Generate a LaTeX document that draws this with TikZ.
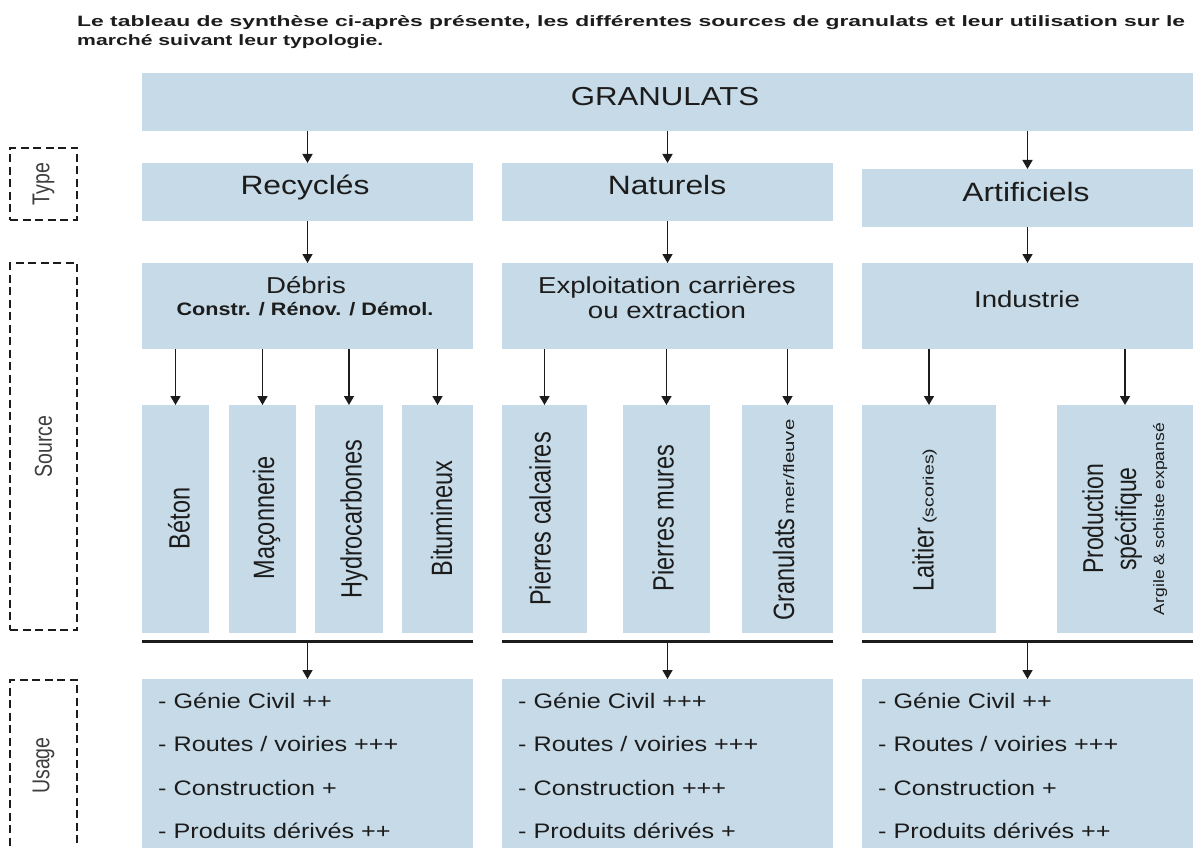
\documentclass[tikz,border=0pt]{standalone}
\usepackage{fontspec}
\usepackage{graphicx}
\setmainfont{Liberation Sans}
\newfontfamily\wide[FakeStretch=1.2]{Liberation Sans}
\usetikzlibrary{arrows.meta}

\definecolor{cellblue}{RGB}{198,218,231}
\definecolor{ink}{RGB}{28,28,28}

% filled cell from its corners (left, top, right, bottom), y measured downwards
\newcommand{\cellbox}[5]{%
  \node[cell, minimum width={(#4-#2)*1pt}, minimum height={(#5-#3)*1pt}]
    (#1) at ({(#2+#4)/2},{(#3+#5)/2}) {};}
% upright-reading vertical text, widened across the page
\newcommand{\vtext}[1]{\scalebox{1.25}[1]{\rotatebox{90}{#1}}}

\begin{document}
\begin{tikzpicture}[x=1pt,y=-1pt,
  cell/.style={fill=cellblue, draw=none, inner sep=0pt, outer sep=0pt},
  arr/.style={draw=ink, line width=1.6pt, -{Triangle[width=10pt,length=9pt]}},
  bar/.style={fill=ink, draw=none, inner sep=0pt, outer sep=0pt, minimum height=3pt},
  tag/.style={draw=ink, line width=2.5pt, dash pattern=on 8pt off 4.5pt,
              inner sep=0pt, text=ink!85},
  txt/.style={inner sep=0pt, text=ink, font=\wide},
  vtxt/.style={inner sep=0pt, text=ink, font=\rmfamily}]

\useasboundingbox (0,0) rectangle (1195,848);

% introduction
\node[anchor=base west, inner sep=0pt, text=ink] (intro1) at (77,27)
  {\resizebox{1108pt}{\height}{\bfseries\fontsize{15}{15}\selectfont Le tableau de synthèse ci-après présente, les différentes sources de granulats et leur utilisation sur le}};
\node[anchor=base west, inner sep=0pt, text=ink] (intro2) at (77,46)
  {\resizebox{306pt}{\height}{\bfseries\fontsize{15}{15}\selectfont marché suivant leur typologie.}};

% row labels
\node[tag, minimum width=67pt, minimum height=72pt] (tagtype) at (43.5,184)
  {\vtext{\fontsize{19.5}{19.5}\selectfont Type}};
\node[tag, minimum width=67pt, minimum height=367pt] (tagsource) at (43.5,446.5)
  {\vtext{\fontsize{19.5}{19.5}\selectfont Source}};
\node[tag, minimum width=67pt, minimum height=171pt] (tagusage) at (43.5,765.5)
  {\vtext{\fontsize{19.5}{19.5}\selectfont Usage}};

% top cell
\cellbox{gran}{142}{73}{1193}{131}
\node[txt, anchor=base] (granT) at (665,106) {\fontsize{26}{26}\selectfont GRANULATS};

% types
\cellbox{rec}{142}{163}{473}{221}
\cellbox{nat}{502}{163}{833}{221}
\cellbox{art}{862}{169}{1193}{227}
\node[txt, anchor=base] (recT) at (305,195) {\fontsize{26.5}{26.5}\selectfont Recyclés};
\node[txt, anchor=base] (natT) at (667,195) {\fontsize{26.5}{26.5}\selectfont Naturels};
\node[txt, anchor=base] (artT) at (1026,201) {\fontsize{26.5}{26.5}\selectfont Artificiels};

% sources
\cellbox{deb}{142}{263}{473}{349}
\cellbox{expl}{502}{263}{833}{349}
\cellbox{ind}{862}{263}{1193}{349}
\node[txt, anchor=base] (debT) at (306,293) {\fontsize{23}{23}\selectfont Débris};
\node[txt, anchor=base] (debS) at (305,315) {\bfseries\fontsize{18}{18}\selectfont Constr. / Rénov. / Démol.};
\node[txt, anchor=base] (explT) at (667,293)
  {\fontsize{23}{25}\selectfont\begin{tabular}[t]{@{}c@{}}Exploitation carrières\\ ou extraction\end{tabular}};
\node[txt, anchor=base] (indT) at (1027,307) {\fontsize{23}{23}\selectfont Industrie};

% materials
\cellbox{beton}{142}{405}{209}{633}
\cellbox{macon}{229}{405}{296}{633}
\cellbox{hydro}{315}{405}{383}{633}
\cellbox{bitu}{402}{405}{473}{633}
\cellbox{calc}{502}{405}{587}{633}
\cellbox{mures}{623}{405}{710}{633}
\cellbox{gmer}{742}{405}{833}{633}
\cellbox{lait}{862}{405}{996}{633}
\cellbox{prod}{1057}{405}{1193}{633}

\node[vtxt] (betonT) at (179,518.5) {\vtext{\fontsize{23.5}{23.5}\selectfont Béton}};
\node[vtxt] (maconT) at (266.5,518) {\vtext{\fontsize{23.5}{23.5}\selectfont Maçonnerie}};
\node[vtxt] (hydroT) at (354,519) {\vtext{\fontsize{23.5}{23.5}\selectfont Hydrocarbones}};
\node[vtxt] (bituT) at (441.5,518.5) {\vtext{\fontsize{23.5}{23.5}\selectfont Bitumineux}};
\node[vtxt] (calcT) at (540,519) {\vtext{\fontsize{23.5}{23.5}\selectfont Pierres calcaires}};
\node[vtxt] (muresT) at (663,518) {\vtext{\fontsize{23.5}{23.5}\selectfont Pierres mures}};
\node[vtxt] (gmerT) at (783.5,520)
  {\vtext{\fontsize{23.5}{23.5}\selectfont Granulats\,\resizebox{95pt}{\height}{\fontsize{12}{12}\selectfont mer/fleuve}}};
\node[vtxt] (laitT) at (924.5,520)
  {\vtext{\fontsize{23.5}{23.5}\selectfont Laitier\,\resizebox{75pt}{\height}{\fontsize{12}{12}\selectfont (scories)}}};
\node[vtxt] (prodT) at (1127,519)
  {\vtext{\fontsize{23}{26.4}\selectfont\begin{tabular}{@{}c@{}}Production\\ spécifique\\[-4pt]
   \resizebox{192pt}{\height}{\fontsize{12}{12}\selectfont Argile \& schiste expansé}\end{tabular}}};

% collecting bars
\node[bar, minimum width=331pt] (recbar) at (307.5,641) {};
\node[bar, minimum width=331pt] (natbar) at (667.5,641) {};
\node[bar, minimum width=331pt] (artbar) at (1027.5,641) {};

% uses
\cellbox{recuse}{142}{679}{473}{860}
\cellbox{natuse}{502}{679}{833}{860}
\cellbox{artuse}{862}{679}{1193}{860}
\node[txt, anchor=base west] (recuseT) at (158,708)
  {\fontsize{21}{43.5}\selectfont\begin{tabular}[t]{@{}l@{}}- Génie Civil ++\\ - Routes / voiries +++\\ - Construction +\\ - Produits dérivés ++\end{tabular}};
\node[txt, anchor=base west] (natuseT) at (518,708)
  {\fontsize{21}{43.5}\selectfont\begin{tabular}[t]{@{}l@{}}- Génie Civil +++\\ - Routes / voiries +++\\ - Construction +++\\ - Produits dérivés +\end{tabular}};
\node[txt, anchor=base west] (artuseT) at (878,708)
  {\fontsize{21}{43.5}\selectfont\begin{tabular}[t]{@{}l@{}}- Génie Civil ++\\ - Routes / voiries +++\\ - Construction +\\ - Produits dérivés ++\end{tabular}};

% connectors
\draw[arr] (gran.south -| rec) -- (rec.north);
\draw[arr] (gran.south -| nat) -- (nat.north);
\draw[arr] (gran.south -| art) -- (art.north);
\draw[arr] (rec.south) -- (deb.north);
\draw[arr] (nat.south) -- (expl.north);
\draw[arr] (art.south) -- (ind.north);
\foreach \m in {beton,macon,hydro,bitu} \draw[arr] (deb.south -| \m) -- (\m.north);
\foreach \m in {calc,mures,gmer} \draw[arr] (expl.south -| \m) -- (\m.north);
\foreach \m in {lait,prod} \draw[arr] (ind.south -| \m) -- (\m.north);
\draw[arr] (recbar.south) -- (recuse.north);
\draw[arr] (natbar.south) -- (natuse.north);
\draw[arr] (artbar.south) -- (artuse.north);
\end{tikzpicture}
\end{document}
